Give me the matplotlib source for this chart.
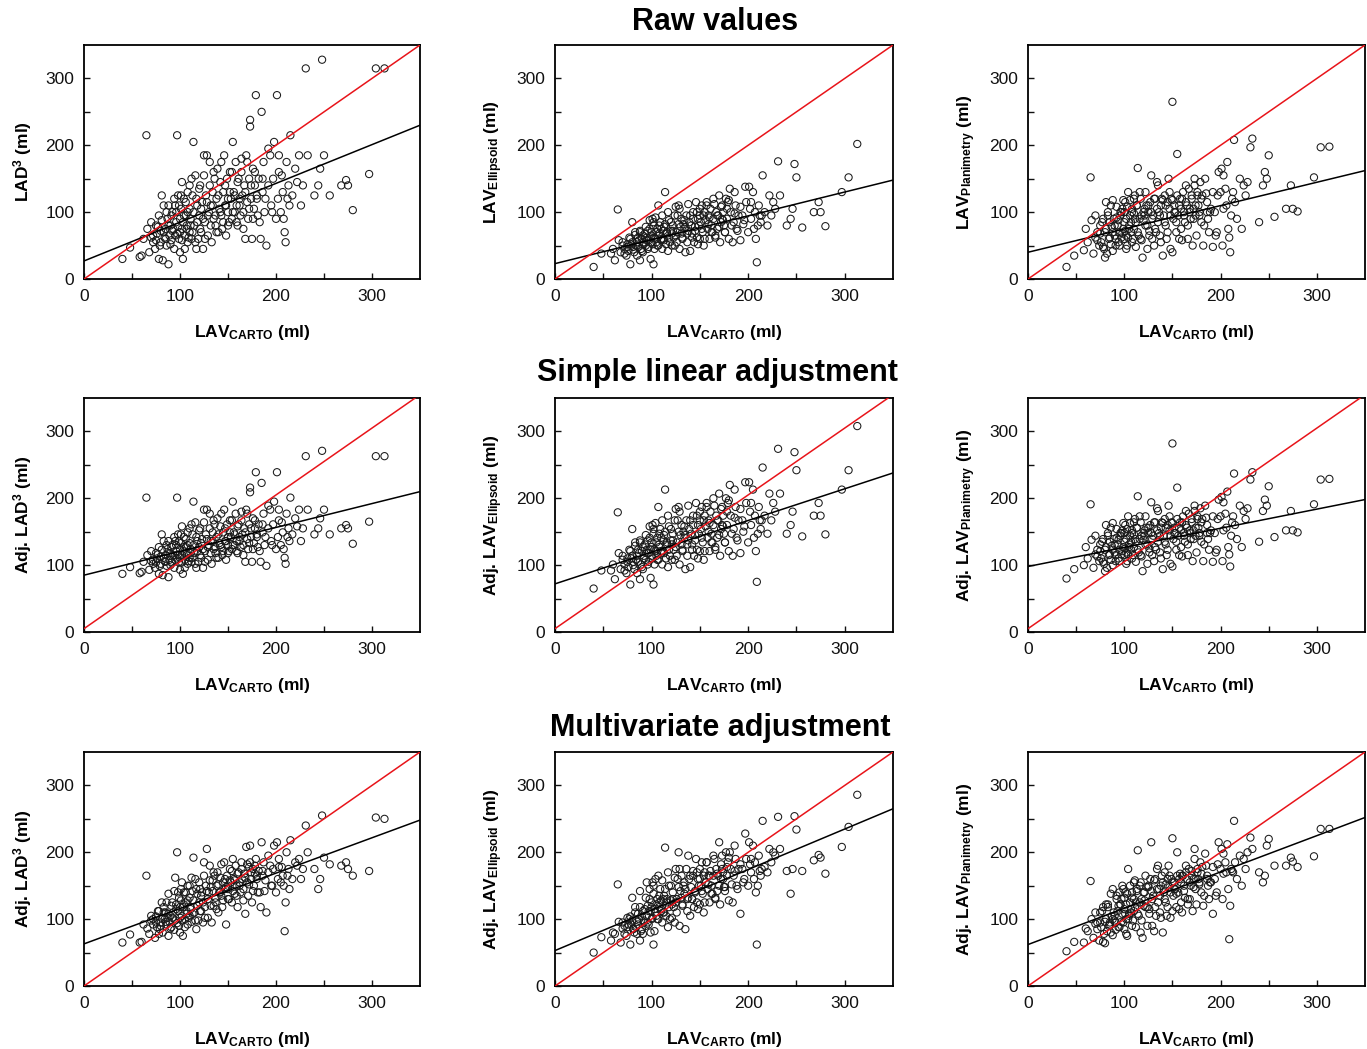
import matplotlib.pyplot as plt

plt.rcParams['font.family'] = ['Liberation Sans', 'DejaVu Sans']
plt.rcParams['mathtext.fontset'] = 'custom'
plt.rcParams['mathtext.rm'] = 'Liberation Sans'
plt.rcParams['mathtext.bf'] = 'Liberation Sans:bold'
plt.rcParams['mathtext.it'] = 'Liberation Sans:italic'

# LAV by CARTO (ml), shared x for all panels
lav_carto = [40, 48, 58, 60, 62, 65, 66, 68, 70, 72,
             74, 75, 76, 78, 78, 80, 80, 81, 82, 83,
             84, 85, 86, 87, 88, 88, 89, 90, 91, 92,
             93, 94, 95, 96, 97, 97, 98, 99, 100, 100,
             101, 102, 102, 103, 104, 105, 106, 107, 108, 108,
             110, 110, 111, 112, 113, 114, 115, 116, 117, 118,
             119, 120, 121, 122, 123, 124, 125, 126, 127, 128,
             129, 130, 131, 132, 133, 134, 135, 136, 137, 138,
             139, 140, 141, 142, 143, 144, 145, 146, 147, 148,
             149, 150, 150, 151, 152, 153, 154, 155, 156, 157,
             158, 159, 160, 161, 162, 163, 164, 165, 166, 167,
             168, 169, 170, 171, 172, 173, 173, 174, 175, 176,
             177, 178, 179, 180, 181, 182, 184, 185, 186, 187,
             188, 190, 192, 194, 195, 197, 198, 200, 201, 202,
             203, 205, 206, 207, 208, 209, 210, 211, 213, 214,
             215, 217, 220, 222, 224, 226, 228, 231, 233, 240,
             244, 246, 248, 250, 256, 268, 273, 275, 280, 297,
             304, 313,
             70, 72, 75, 77, 79, 81, 83, 85, 86, 88,
             90, 91, 92, 94, 95, 96, 98, 99, 100, 101,
             102, 103, 104, 105, 106, 107, 108, 109, 110, 111,
             112, 113, 114, 116, 117, 118, 120, 121, 122, 124,
             125, 126, 128, 129, 131, 132, 134, 135, 137, 138,
             140, 142, 143, 145, 147, 148, 150, 152, 154, 155,
             157, 159, 160, 162, 164, 166, 168, 170, 172, 174,
             176, 178, 180, 183, 186, 189, 192, 196, 203, 212]

# raw values
lad3_raw = [30, 47, 33, 35, 60, 215, 75, 40, 62, 55,
            45, 80, 68, 30, 95, 72, 55, 125, 28, 110,
            62, 75, 50, 90, 22, 110, 65, 80, 58, 100,
            75, 45, 110, 85, 215, 68, 125, 60, 90, 40,
            105, 75, 145, 30, 95, 65, 115, 80, 55, 100,
            140, 70, 90, 60, 125, 205, 80, 155, 45, 110,
            60, 95, 140, 70, 115, 45, 185, 85, 125, 185,
            65, 100, 175, 110, 55, 130, 90, 150, 80, 120,
            165, 70, 105, 145, 95, 75, 130, 185, 110, 65,
            150, 100, 120, 85, 160, 120, 90, 205, 130, 100,
            175, 110, 80, 150, 120, 95, 180, 125, 100, 140,
            60, 185, 115, 90, 150, 238, 228, 120, 60, 165,
            105, 140, 275, 120, 95, 150, 60, 250, 130, 175,
            100, 50, 140, 185, 110, 150, 205, 90, 275, 120,
            185, 100, 155, 130, 90, 70, 55, 175, 140, 110,
            215, 125, 165, 145, 185, 110, 140, 315, 185, 125,
            140, 165, 328, 185, 125, 140, 148, 140, 103, 157,
            315, 315,
            85, 65, 58, 78, 50, 88, 70, 60, 100, 80,
            52, 95, 72, 120, 65, 100, 78, 110, 70, 125,
            58, 85, 120, 45, 95, 75, 130, 62, 105, 80,
            150, 70, 100, 55, 120, 85, 135, 75, 105, 90,
            155, 60, 115, 95, 140, 80, 110, 160, 95, 70,
            125, 100, 175, 85, 140, 110, 80, 130, 160, 100,
            125, 85, 145, 110, 160, 75, 130, 175, 105, 140,
            90, 160, 125, 85, 150, 120, 195, 100, 160, 120]

ellipsoid_raw = [18, 38, 38, 45, 28, 104, 58, 40, 50, 45,
                 35, 52, 42, 22, 60, 55, 85, 48, 40, 70,
                 50, 35, 62, 58, 28, 72, 45, 60, 40, 55,
                 68, 50, 62, 72, 58, 48, 75, 30, 65, 55,
                 90, 22, 85, 45, 60, 70, 50, 110, 65, 80,
                 58, 75, 45, 60, 78, 130, 52, 70, 42, 88,
                 55, 72, 68, 80, 62, 50, 108, 70, 95, 110,
                 45, 78, 90, 60, 82, 75, 40, 95, 68, 112,
                 85, 42, 80, 62, 90, 55, 72, 115, 100, 52,
                 80, 95, 60, 85, 110, 70, 50, 100, 88, 115,
                 75, 95, 60, 105, 80, 70, 90, 112, 62, 100,
                 75, 95, 125, 55, 85, 110, 90, 100, 80, 70,
                 120, 90, 115, 60, 135, 100, 55, 85, 130, 110,
                 75, 95, 58, 95, 82, 138, 115, 70, 138, 105,
                 90, 130, 75, 100, 60, 25, 80, 110, 85, 95,
                 155, 100, 80, 125, 95, 115, 105, 176, 125, 80,
                 90, 105, 172, 152, 77, 100, 115, 100, 79, 130,
                 152, 202,
                 55, 38, 48, 62, 52, 44, 66, 55, 48, 70,
                 42, 65, 52, 78, 58, 45, 88, 62, 70, 52,
                 80, 62, 92, 55, 75, 50, 68, 85, 60, 95,
                 72, 58, 82, 68, 100, 62, 85, 50, 72, 95,
                 65, 55, 82, 105, 68, 62, 88, 78, 55, 72,
                 95, 68, 100, 78, 62, 90, 105, 75, 95, 60,
                 110, 82, 92, 70, 120, 65, 95, 78, 108, 88,
                 70, 105, 118, 80, 98, 72, 108, 88, 115, 95]

planimetry_raw = [18, 35, 43, 75, 55, 152, 88, 38, 62, 70,
                  50, 80, 55, 48, 90, 70, 32, 115, 38, 100,
                  60, 85, 52, 78, 42, 118, 90, 65, 50, 92,
                  80, 55, 70, 100, 100, 62, 105, 75, 85, 60,
                  115, 45, 65, 50, 130, 80, 95, 70, 55, 100,
                  120, 75, 90, 48, 110, 166, 65, 130, 60, 95,
                  32, 88, 105, 80, 110, 45, 100, 72, 115, 155,
                  60, 95, 50, 120, 70, 145, 85, 100, 65, 110,
                  120, 35, 95, 125, 80, 60, 115, 150, 105, 45,
                  120, 265, 40, 90, 110, 100, 70, 187, 95, 60,
                  120, 105, 58, 130, 100, 85, 115, 110, 80, 135,
                  100, 90, 120, 50, 105, 150, 140, 95, 65, 125,
                  110, 100, 145, 85, 125, 50, 150, 128, 100, 90,
                  70, 105, 48, 100, 65, 125, 160, 130, 165, 50,
                  155, 135, 110, 175, 75, 62, 40, 95, 130, 208,
                  115, 90, 150, 75, 140, 125, 145, 197, 210, 85,
                  140, 160, 150, 185, 93, 105, 140, 105, 101, 152,
                  197, 198,
                  95, 58, 68, 85, 45, 75, 95, 62, 110, 70,
                  80, 60, 108, 88, 50, 95, 68, 118, 100, 72,
                  90, 108, 62, 75, 118, 85, 105, 60, 98, 125,
                  85, 110, 70, 90, 120, 58, 100, 95, 130, 80,
                  110, 65, 100, 90, 120, 75, 105, 140, 95, 55,
                  118, 85, 110, 70, 130, 95, 118, 100, 85, 125,
                  110, 75, 120, 95, 140, 60, 105, 125, 90, 110,
                  130, 95, 120, 80, 115, 100, 130, 70, 105, 120]

# simple linear adjustment
lad3_simple = [87, 97, 88, 90, 105, 201, 115, 93, 106, 102,
               96, 118, 110, 87, 127, 113, 102, 146, 85, 136,
               106, 115, 99, 124, 82, 136, 108, 118, 104, 130,
               115, 96, 136, 121, 201, 110, 146, 105, 124, 93,
               133, 115, 158, 87, 127, 108, 139, 118, 102, 130,
               155, 111, 124, 105, 146, 195, 118, 164, 96, 136,
               105, 127, 155, 111, 139, 96, 183, 121, 146, 183,
               108, 130, 177, 136, 102, 149, 124, 161, 118, 142,
               170, 111, 133, 158, 127, 115, 149, 183, 136, 108,
               161, 130, 142, 121, 167, 142, 124, 195, 149, 130,
               177, 136, 118, 161, 142, 127, 180, 146, 130, 155,
               105, 183, 139, 124, 161, 216, 209, 142, 105, 170,
               133, 155, 239, 142, 127, 161, 105, 223, 149, 177,
               130, 99, 155, 183, 136, 161, 195, 124, 239, 142,
               183, 130, 164, 149, 124, 111, 102, 177, 155, 136,
               201, 146, 170, 158, 183, 136, 155, 263, 183, 146,
               155, 170, 271, 183, 146, 155, 160, 155, 132, 165,
               263, 263,
               121, 108, 104, 116, 99, 123, 111, 105, 130, 118,
               100, 127, 113, 142, 108, 130, 116, 136, 111, 146,
               104, 121, 142, 96, 127, 115, 149, 106, 133, 118,
               161, 111, 130, 102, 142, 121, 152, 115, 133, 124,
               164, 105, 139, 127, 155, 118, 136, 167, 127, 111,
               146, 130, 177, 121, 155, 136, 118, 149, 167, 130,
               146, 121, 158, 136, 167, 115, 149, 177, 133, 155,
               124, 167, 146, 121, 161, 142, 189, 130, 167, 142]

ellipsoid_simple = [65, 92, 92, 101, 79, 179, 118, 94, 108, 101,
                    88, 110, 97, 71, 121, 114, 154, 105, 94, 134,
                    108, 88, 123, 118, 79, 137, 101, 121, 94, 114,
                    131, 108, 123, 137, 118, 105, 141, 81, 127, 114,
                    160, 71, 154, 101, 121, 134, 108, 187, 127, 147,
                    118, 141, 101, 121, 145, 213, 110, 134, 97, 158,
                    114, 137, 131, 147, 123, 108, 184, 134, 167, 187,
                    101, 145, 160, 121, 150, 141, 94, 167, 131, 189,
                    154, 97, 147, 123, 160, 114, 137, 193, 174, 110,
                    147, 167, 121, 154, 187, 134, 108, 174, 158, 193,
                    141, 167, 121, 180, 147, 134, 160, 189, 123, 174,
                    141, 167, 207, 114, 154, 187, 160, 174, 147, 134,
                    200, 160, 193, 121, 220, 174, 114, 154, 213, 187,
                    141, 167, 118, 167, 150, 224, 193, 134, 224, 180,
                    160, 213, 141, 174, 121, 75, 147, 187, 154, 167,
                    246, 174, 147, 207, 167, 193, 180, 274, 207, 147,
                    160, 180, 269, 242, 143, 174, 193, 174, 146, 213,
                    242, 308,
                    114, 92, 105, 123, 110, 100, 129, 114, 105, 134,
                    97, 127, 110, 145, 118, 101, 158, 123, 134, 110,
                    147, 123, 163, 114, 141, 108, 131, 154, 121, 167,
                    137, 118, 150, 131, 174, 123, 154, 108, 137, 167,
                    127, 114, 150, 180, 131, 123, 158, 145, 114, 137,
                    167, 131, 174, 145, 123, 160, 180, 141, 167, 121,
                    187, 150, 163, 134, 200, 127, 167, 145, 184, 158,
                    134, 180, 197, 147, 171, 137, 184, 158, 193, 167]

planimetry_simple = [80, 94, 100, 127, 110, 191, 138, 96, 116, 123,
                     106, 131, 110, 105, 139, 123, 91, 160, 96, 148,
                     115, 135, 108, 129, 100, 163, 139, 119, 106, 141,
                     131, 110, 123, 148, 148, 116, 152, 127, 135, 115,
                     160, 102, 119, 106, 173, 131, 144, 123, 110, 148,
                     164, 127, 139, 105, 156, 203, 119, 173, 115, 144,
                     91, 138, 152, 131, 156, 102, 148, 125, 160, 194,
                     115, 144, 106, 164, 123, 185, 135, 148, 119, 156,
                     164, 94, 144, 169, 131, 115, 160, 189, 152, 102,
                     164, 282, 98, 139, 156, 148, 123, 216, 144, 115,
                     164, 152, 113, 173, 148, 135, 160, 156, 131, 177,
                     148, 139, 164, 106, 152, 189, 181, 144, 119, 169,
                     156, 148, 185, 135, 169, 106, 189, 171, 148, 139,
                     123, 152, 105, 148, 119, 169, 198, 173, 202, 106,
                     194, 177, 156, 210, 127, 116, 98, 144, 173, 237,
                     160, 139, 189, 127, 181, 169, 185, 228, 239, 135,
                     181, 198, 189, 218, 142, 152, 181, 152, 149, 191,
                     228, 229,
                     144, 113, 121, 135, 102, 127, 144, 116, 156, 123,
                     131, 115, 154, 138, 106, 144, 121, 163, 148, 125,
                     139, 154, 116, 127, 163, 135, 152, 115, 146, 169,
                     135, 156, 123, 139, 164, 113, 148, 144, 173, 131,
                     156, 119, 148, 139, 164, 127, 152, 181, 144, 110,
                     163, 135, 156, 123, 173, 144, 163, 148, 135, 169,
                     156, 127, 164, 144, 181, 115, 152, 169, 139, 156,
                     173, 144, 164, 131, 160, 148, 173, 123, 152, 164]

# multivariate adjustment
lad3_multi = [65, 77, 65, 66, 92, 165, 86, 78, 98, 100,
              72, 104, 88, 78, 112, 95, 90, 125, 80, 118,
              100, 110, 92, 102, 75, 138, 96, 105, 88, 125,
              110, 84, 162, 115, 200, 94, 140, 90, 118, 80,
              128, 105, 155, 75, 122, 100, 140, 112, 92, 128,
              150, 105, 118, 96, 142, 192, 110, 160, 85, 138,
              98, 125, 145, 112, 140, 95, 185, 118, 150, 205,
              102, 140, 180, 148, 95, 158, 120, 165, 125, 150,
              170, 110, 140, 162, 135, 118, 155, 185, 145, 92,
              165, 145, 150, 130, 175, 155, 125, 190, 160, 138,
              180, 150, 118, 170, 155, 140, 185, 160, 145, 168,
              108, 208, 155, 135, 178, 210, 185, 160, 125, 175,
              150, 168, 190, 160, 140, 172, 118, 215, 165, 185,
              142, 110, 170, 180, 150, 175, 210, 140, 215, 160,
              190, 155, 178, 165, 150, 82, 125, 200, 175, 145,
              218, 160, 185, 180, 190, 160, 175, 240, 200, 175,
              145, 160, 255, 192, 182, 180, 185, 175, 165, 172,
              252, 250,
              105, 92, 95, 112, 85, 102, 110, 96, 125, 108,
              86, 120, 102, 142, 98, 122, 112, 132, 102, 145,
              98, 118, 140, 88, 125, 108, 150, 102, 132, 115,
              162, 108, 128, 98, 145, 120, 155, 112, 135, 125,
              165, 102, 142, 130, 158, 120, 142, 170, 132, 115,
              152, 140, 182, 128, 160, 148, 130, 158, 172, 142,
              158, 135, 168, 150, 175, 128, 162, 182, 152, 170,
              142, 180, 165, 140, 172, 158, 195, 150, 178, 165]

ellipsoid_multi = [50, 73, 68, 80, 78, 152, 96, 65, 86, 90,
                   75, 102, 92, 62, 104, 98, 132, 85, 80, 118,
                   88, 78, 108, 100, 68, 142, 82, 104, 78, 95,
                   115, 90, 155, 120, 112, 92, 130, 80, 118, 100,
                   155, 62, 150, 82, 110, 122, 100, 165, 118, 135,
                   112, 128, 95, 110, 135, 207, 105, 130, 88, 150,
                   100, 128, 122, 140, 118, 95, 175, 130, 160, 200,
                   90, 142, 165, 120, 150, 138, 85, 175, 130, 195,
                   160, 105, 148, 130, 165, 118, 140, 190, 170, 115,
                   150, 160, 122, 150, 185, 138, 110, 170, 155, 185,
                   145, 165, 125, 172, 150, 138, 165, 190, 130, 175,
                   142, 165, 215, 122, 160, 195, 175, 170, 148, 148,
                   200, 165, 185, 128, 200, 175, 125, 165, 210, 190,
                   150, 175, 108, 175, 155, 228, 190, 150, 215, 182,
                   170, 210, 160, 185, 140, 62, 150, 195, 165, 175,
                   247, 178, 170, 205, 185, 200, 195, 253, 205, 172,
                   138, 175, 254, 234, 172, 188, 196, 192, 168, 208,
                   238, 286,
                   95, 78, 88, 100, 92, 86, 110, 96, 92, 118,
                   85, 112, 98, 132, 105, 95, 145, 112, 125, 102,
                   138, 115, 160, 105, 130, 100, 125, 145, 115, 158,
                   130, 110, 145, 125, 170, 118, 150, 102, 130, 162,
                   125, 110, 148, 175, 132, 122, 155, 145, 112, 132,
                   165, 130, 172, 142, 125, 160, 175, 142, 165, 125,
                   185, 152, 165, 138, 195, 132, 168, 150, 182, 160,
                   142, 178, 192, 152, 172, 145, 182, 160, 190, 172]

planimetry_multi = [52, 66, 65, 86, 82, 157, 100, 72, 93, 95,
                    68, 110, 88, 66, 118, 96, 64, 122, 82, 118,
                    90, 95, 80, 104, 76, 145, 110, 98, 84, 135,
                    112, 88, 140, 122, 130, 96, 150, 95, 115, 85,
                    140, 78, 100, 75, 175, 108, 125, 110, 90, 132,
                    155, 112, 118, 88, 145, 203, 105, 150, 80, 130,
                    72, 120, 140, 118, 148, 90, 150, 115, 160, 215,
                    90, 135, 82, 160, 105, 175, 125, 145, 110, 150,
                    165, 80, 140, 170, 125, 105, 160, 180, 148, 102,
                    160, 221, 112, 135, 155, 145, 118, 200, 140, 115,
                    168, 155, 110, 165, 150, 132, 170, 160, 130, 175,
                    130, 150, 165, 112, 160, 205, 190, 145, 122, 175,
                    160, 155, 185, 140, 178, 120, 198, 180, 160, 150,
                    130, 155, 108, 160, 135, 182, 215, 175, 205, 130,
                    198, 185, 170, 212, 145, 70, 120, 175, 170, 247,
                    185, 160, 195, 150, 190, 175, 200, 222, 205, 170,
                    155, 165, 210, 220, 180, 180, 192, 186, 178, 194,
                    235, 235,
                    110, 85, 95, 112, 78, 100, 122, 92, 138, 100,
                    105, 95, 130, 120, 88, 122, 108, 145, 132, 108,
                    122, 138, 100, 105, 150, 115, 140, 98, 130, 158,
                    125, 142, 108, 125, 155, 98, 140, 128, 165, 118,
                    148, 108, 142, 130, 158, 118, 145, 180, 135, 102,
                    155, 130, 152, 118, 165, 140, 155, 145, 138, 165,
                    160, 125, 165, 142, 180, 122, 155, 172, 148, 160,
                    170, 152, 168, 135, 165, 155, 178, 140, 168, 172]

# regression line (intercept, slope), per panel
fit_intercept = [27, 23, 40, 85, 72, 98, 63, 53, 62]
fit_slope = [0.58, 0.357, 0.349, 0.357, 0.474, 0.286, 0.529, 0.606, 0.543]
identity_offset = [0, 0, 0, 5, 5, 5, 0, 0, 0]

series = [lad3_raw, ellipsoid_raw, planimetry_raw,
          lad3_simple, ellipsoid_simple, planimetry_simple,
          lad3_multi, ellipsoid_multi, planimetry_multi]

ylabels = [r'LAD$^{\mathbf{3}}$ (ml)',
           r'LAV$_{\mathbf{Ellipsoid}}$ (ml)',
           r'LAV$_{\mathbf{Planimetry}}$ (ml)',
           r'Adj. LAD$^{\mathbf{3}}$ (ml)',
           r'Adj. LAV$_{\mathbf{Ellipsoid}}$ (ml)',
           r'Adj. LAV$_{\mathbf{Planimetry}}$ (ml)',
           r'Adj. LAD$^{\mathbf{3}}$ (ml)',
           r'Adj. LAV$_{\mathbf{Ellipsoid}}$ (ml)',
           r'Adj. LAV$_{\mathbf{Planimetry}}$ (ml)']
xlabel = r'LAV$_{\mathbf{CARTO}}$ (ml)'

row_titles = ['Raw values', 'Simple linear adjustment', 'Multivariate adjustment']

W, H = 1367, 1049
fig = plt.figure(figsize=(W / 100, H / 100), dpi=100)

lefts = [84, 555, 1028]
widths = [336, 338, 337]
tops = [45, 398, 752]
ph = 234
title_y = [22, 373, 728]
title_x = [715, 717, 720]

for i in range(9):
    r, c = divmod(i, 3)
    ax = fig.add_axes([lefts[c] / W, 1 - (tops[r] + ph) / H, widths[c] / W, ph / H])
    ax.scatter(lav_carto, series[i], s=27, facecolors='none',
               edgecolors='#1a1a1a', linewidths=0.75, zorder=2)
    ax.axline((0, fit_intercept[i]), slope=fit_slope[i], color='black', lw=1.1, zorder=3)
    ax.axline((0, identity_offset[i]), slope=1, color='#e8141a', lw=1.1, zorder=3)
    ax.set_xlim(0, 350)
    ax.set_ylim(0, 350)
    ax.set_xticks([0, 100, 200, 300])
    ax.set_yticks([0, 100, 200, 300])
    ax.set_xticks([50, 150, 250], minor=True)
    ax.set_yticks([50, 150, 250], minor=True)
    ax.tick_params(which='both', direction='in', length=4, width=1,
                   labelsize=12.5, pad=7, colors='#111111')
    for sp in ax.spines.values():
        sp.set_linewidth(1.3)
    ax.set_xlabel(xlabel, fontsize=12.5, fontweight='bold', labelpad=14)
    ax.set_ylabel(ylabels[i], fontsize=12.5, fontweight='bold', labelpad=8)

for r in range(3):
    fig.text(title_x[r] / W, 1 - title_y[r] / H, row_titles[r], fontsize=22,
             fontweight='bold', ha='center', va='center')

fig.savefig('out.png', dpi=100)
